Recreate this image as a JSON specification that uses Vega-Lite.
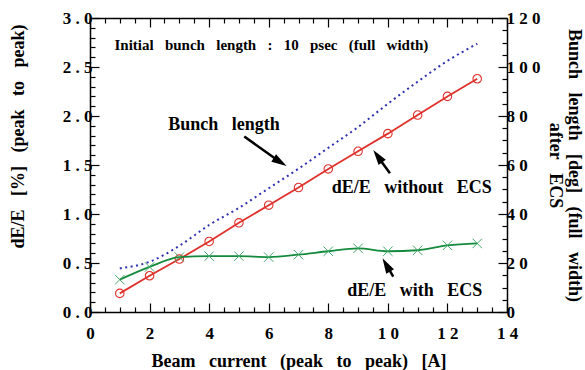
{
  "$schema": "https://vega.github.io/schema/vega-lite/v6.json",
  "width": 417,
  "height": 294,
  "autosize": {"type": "none"},
  "padding": {"left": 90, "top": 18, "right": 78, "bottom": 58},
  "background": "white",
  "config": {
    "font": "Liberation Serif",
    "view": {"stroke": null},
    "axis": {
      "labelFont": "Liberation Serif", "labelFontWeight": "bold", "labelFontSize": 17, "labelColor": "black",
      "titleFont": "Liberation Serif", "titleFontWeight": "bold", "titleFontSize": 18, "titleColor": "black",
      "domainColor": "black", "domainWidth": 1.5, "tickColor": "black", "tickWidth": 1.2,
      "grid": false, "labelFlush": false, "labelOverlap": false, "labelBound": false
    }
  },
  "datasets": {
    "main": [
      {"I": 1, "without": 0.19, "with": 0.33, "bunch": 17.8},
      {"I": 2, "without": 0.37, "with": 0.46, "bunch": 20.5},
      {"I": 3, "without": 0.54, "with": 0.56, "bunch": 27.0},
      {"I": 4, "without": 0.72, "with": 0.57, "bunch": 35.5},
      {"I": 5, "without": 0.91, "with": 0.57, "bunch": 42.5},
      {"I": 6, "without": 1.09, "with": 0.56, "bunch": 50.5},
      {"I": 7, "without": 1.27, "with": 0.585, "bunch": 58.5},
      {"I": 8, "without": 1.46, "with": 0.62, "bunch": 67.0},
      {"I": 9, "without": 1.64, "with": 0.65, "bunch": 75.5},
      {"I": 10, "without": 1.82, "with": 0.62, "bunch": 85.0},
      {"I": 11, "without": 2.01, "with": 0.63, "bunch": 94.0},
      {"I": 12, "without": 2.20, "with": 0.68, "bunch": 102.5},
      {"I": 13, "without": 2.38, "with": 0.70, "bunch": 109.5}
    ],
    "notes": [
      {"I": 6.09, "value": 2.72, "text": "Initial\u00a0\u00a0 bunch\u00a0\u00a0 length\u00a0\u00a0 :\u00a0\u00a0 10\u00a0\u00a0 psec\u00a0\u00a0 (full\u00a0\u00a0 width)", "size": "small"},
      {"I": 4.5, "value": 1.91, "text": "Bunch\u00a0\u00a0 length", "size": "big"},
      {"I": 10.8, "value": 1.27, "text": "dE/E\u00a0\u00a0 without\u00a0\u00a0 ECS", "size": "big"},
      {"I": 10.9, "value": 0.21, "text": "dE/E\u00a0\u00a0 with\u00a0\u00a0 ECS", "size": "big"}
    ],
    "arrows": [
      {"id": "a1", "I": 5.18, "value": 1.79, "I2": 6.37, "value2": 1.533, "tipI": 6.6, "tipV": 1.49},
      {"id": "a2", "I": 10.07, "value": 1.415, "I2": 9.66, "value2": 1.587, "tipI": 9.51, "tipV": 1.653},
      {"id": "a3", "I": 10.18, "value": 0.36, "I2": 9.96, "value2": 0.478, "tipI": 9.82, "tipV": 0.548}
    ]
  },
  "layer": [
    {
      "encoding": {
        "x": {
          "field": "I", "type": "quantitative",
          "scale": {"domain": [0, 14], "nice": false, "zero": false},
          "title": "Beam\u00a0\u00a0 current\u00a0\u00a0 (peak\u00a0\u00a0 to\u00a0\u00a0 peak)\u00a0\u00a0 [A]",
          "axis": {
            "orient": "bottom",
            "values": [0,0.5,1,1.5,2,2.5,3,3.5,4,4.5,5,5.5,6,6.5,7,7.5,8,8.5,9,9.5,10,10.5,11,11.5,12,12.5,13,13.5,14],
            "labelExpr": "datum.value % 2 == 0 ? join(split(format(datum.value, 'd'), ''), ' ') : ''",
            "tickSize": {"condition": {"test": "datum.value % 2 == 0", "value": -9}, "value": -5},
            "labelPadding": 22,
            "titleY": 54,
            "titleBaseline": "alphabetic"
          }
        },
        "y": {
          "field": "value", "type": "quantitative",
          "scale": {"domain": [0, 3], "nice": false, "zero": false},
          "title": "dE/E\u00a0\u00a0 [%]\u00a0\u00a0 (peak\u00a0\u00a0 to\u00a0\u00a0 peak)",
          "axis": {
            "orient": "left",
            "values": [0,0.1,0.2,0.3,0.4,0.5,0.6,0.7,0.8,0.9,1,1.1,1.2,1.3,1.4,1.5,1.6,1.7,1.8,1.9,2,2.1,2.2,2.3,2.4,2.5,2.6,2.7,2.8,2.9,3],
            "labelExpr": "abs(round(datum.value*10) % 5) == 0 ? join(split(format(datum.value, '.1f'), ''), ' ') : ''",
            "tickSize": {"condition": {"test": "abs(round(datum.value*10) % 5) == 0", "value": -9}, "value": -5},
            "labelPadding": 7,
            "titleX": -72,
            "titleY": 118,
            "titleAlign": "center",
            "titleBaseline": "middle",
            "titleAngle": 270
          }
        }
      },
      "layer": [
        {
          "data": {"name": "main"},
          "transform": [{"fold": ["without", "with"]}, {"filter": "datum.key == 'without'"}],
          "mark": {"type": "line", "color": "#e0302a", "strokeWidth": 1.8}
        },
        {
          "data": {"name": "main"},
          "transform": [{"fold": ["without", "with"]}, {"filter": "datum.key == 'without'"}],
          "mark": {"type": "point", "shape": "circle", "filled": false, "size": 72, "stroke": "#e0302a", "strokeWidth": 1.1, "opacity": 1}
        },
        {
          "data": {"name": "main"},
          "transform": [{"fold": ["without", "with"]}, {"filter": "datum.key == 'with'"}],
          "mark": {"type": "line", "color": "#138a3c", "strokeWidth": 1.8, "interpolate": "monotone"}
        },
        {
          "data": {"name": "main"},
          "transform": [{"fold": ["without", "with"]}, {"filter": "datum.key == 'with'"}],
          "mark": {"type": "point", "shape": "M-1,-1L1,1M1,-1L-1,1", "filled": false, "size": 90, "stroke": "#45a86a", "strokeWidth": 1, "opacity": 1}
        },
        {
          "data": {"name": "notes"},
          "transform": [{"filter": "datum.size == 'small'"}],
          "mark": {"type": "text", "font": "Liberation Serif", "fontWeight": "bold", "fontSize": 15, "align": "center", "baseline": "middle", "color": "black"},
          "encoding": {"text": {"field": "text"}}
        },
        {
          "data": {"name": "notes"},
          "transform": [{"filter": "datum.size == 'big'"}],
          "mark": {"type": "text", "font": "Liberation Serif", "fontWeight": "bold", "fontSize": 18, "align": "center", "baseline": "middle", "color": "black"},
          "encoding": {"text": {"field": "text"}}
        },
        {
          "data": {"name": "arrows"},
          "mark": {"type": "rule", "color": "black", "strokeWidth": 2.5},
          "encoding": {"x2": {"field": "I2"}, "y2": {"field": "value2"}}
        },
        {
          "data": {"name": "arrows"},
          "transform": [{"filter": "datum.id == 'a1'"}],
          "mark": {"type": "point", "shape": "M0,0L0.5,1.7L-0.5,1.7Z", "filled": true, "color": "black", "size": 320, "angle": 122, "opacity": 1},
          "encoding": {"x": {"field": "tipI", "type": "quantitative"}, "y": {"field": "tipV", "type": "quantitative"}}
        },
        {
          "data": {"name": "arrows"},
          "transform": [{"filter": "datum.id == 'a2'"}],
          "mark": {"type": "point", "shape": "M0,0L0.5,1.7L-0.5,1.7Z", "filled": true, "color": "black", "size": 320, "angle": 324, "opacity": 1},
          "encoding": {"x": {"field": "tipI", "type": "quantitative"}, "y": {"field": "tipV", "type": "quantitative"}}
        },
        {
          "data": {"name": "arrows"},
          "transform": [{"filter": "datum.id == 'a3'"}],
          "mark": {"type": "point", "shape": "M0,0L0.5,1.7L-0.5,1.7Z", "filled": true, "color": "black", "size": 320, "angle": 330, "opacity": 1},
          "encoding": {"x": {"field": "tipI", "type": "quantitative"}, "y": {"field": "tipV", "type": "quantitative"}}
        }
      ]
    },
    {
      "data": {"name": "main"},
      "mark": {"type": "line", "color": "#2b2fb0", "strokeWidth": 2, "strokeDash": [2, 3.5], "interpolate": "monotone"},
      "encoding": {
        "x": {
          "field": "I", "type": "quantitative",
          "scale": {"domain": [0, 14], "nice": false, "zero": false},
          "axis": {
            "orient": "top", "labels": false, "title": null,
            "values": [0,0.5,1,1.5,2,2.5,3,3.5,4,4.5,5,5.5,6,6.5,7,7.5,8,8.5,9,9.5,10,10.5,11,11.5,12,12.5,13,13.5,14],
            "tickSize": {"condition": {"test": "datum.value % 2 == 0", "value": -9}, "value": -5}
          }
        },
        "y": {
          "field": "bunch", "type": "quantitative",
          "scale": {"domain": [0, 120], "nice": false, "zero": false},
          "title": ["Bunch\u00a0\u00a0 length\u00a0\u00a0 [deg]\u00a0\u00a0 (full\u00a0\u00a0 width)", "after\u00a0\u00a0 ECS"],
          "axis": {
            "orient": "right",
            "values": [0,5,10,15,20,25,30,35,40,45,50,55,60,65,70,75,80,85,90,95,100,105,110,115,120],
            "labelExpr": "datum.value % 20 == 0 ? join(split(format(datum.value, 'd'), ''), ' ') : ''",
            "tickSize": {"condition": {"test": "datum.value % 20 == 0", "value": -9}, "value": -5},
            "labelPadding": 8,
            "titlePadding": 5,
            "titleLineHeight": 19
          }
        }
      }
    }
  ],
  "resolve": {"scale": {"y": "independent"}, "axis": {"x": "independent", "y": "independent"}}
}
